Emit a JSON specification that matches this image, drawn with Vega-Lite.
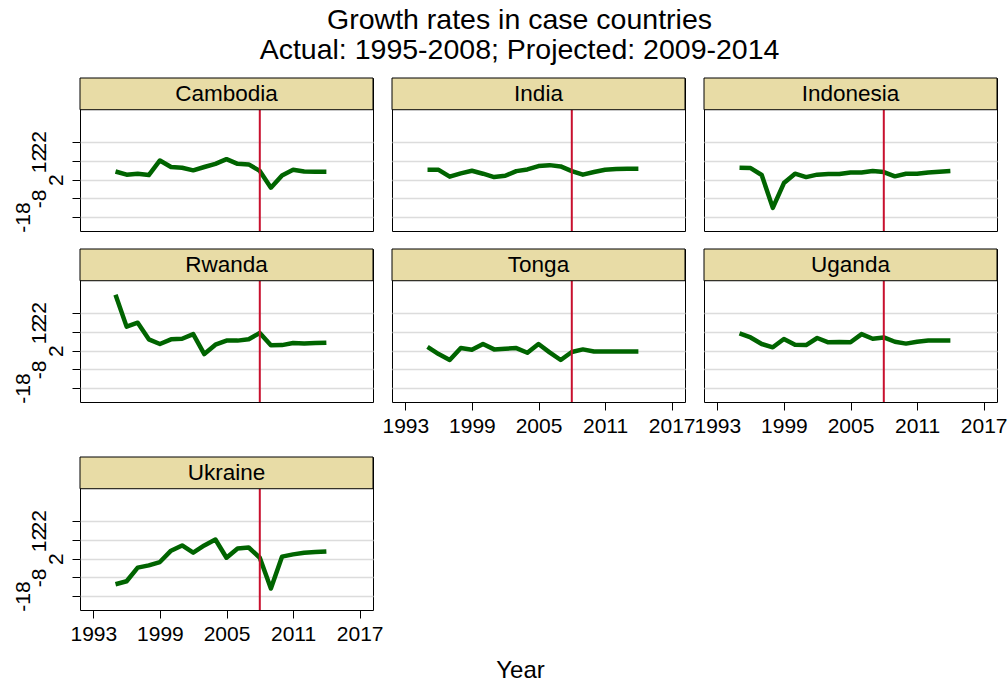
{
"$schema": "https://vega.github.io/schema/vega-lite/v6.json",
"padding": {"left": 11, "top": 6, "right": 0, "bottom": 0},
"background": "white",
"title": {"text": ["Growth rates in case countries", "Actual: 1995-2008; Projected: 2009-2014"], "fontSize": 28.5, "lineHeight": 29.5, "font": "Liberation Sans", "fontWeight": "normal", "color": "black", "anchor": "middle", "dx": 10, "offset": 13},
"config": {
  "view": {"stroke": "black", "strokeWidth": 1},
  "axis": {"labelFont": "Liberation Sans", "titleFont": "Liberation Sans", "labelColor": "black", "titleColor": "black"},
  "text": {"font": "Liberation Sans"}
},
"datasets": {
"growth": [
{"country":"Cambodia","year":1995,"growth":6.4},{"country":"Cambodia","year":1996,"growth":4.7},{"country":"Cambodia","year":1997,"growth":5.2},{"country":"Cambodia","year":1998,"growth":4.5},{"country":"Cambodia","year":1999,"growth":12.3},{"country":"Cambodia","year":2000,"growth":8.8},{"country":"Cambodia","year":2001,"growth":8.4},{"country":"Cambodia","year":2002,"growth":7.0},{"country":"Cambodia","year":2003,"growth":8.8},{"country":"Cambodia","year":2004,"growth":10.5},{"country":"Cambodia","year":2005,"growth":13.0},{"country":"Cambodia","year":2006,"growth":10.5},{"country":"Cambodia","year":2007,"growth":10.2},{"country":"Cambodia","year":2008,"growth":6.7},{"country":"Cambodia","year":2009,"growth":-2.3},{"country":"Cambodia","year":2010,"growth":4.3},{"country":"Cambodia","year":2011,"growth":7.3},{"country":"Cambodia","year":2012,"growth":6.4},{"country":"Cambodia","year":2013,"growth":6.3},{"country":"Cambodia","year":2014,"growth":6.3},
{"country":"India","year":1995,"growth":7.3},{"country":"India","year":1996,"growth":7.3},{"country":"India","year":1997,"growth":3.6},{"country":"India","year":1998,"growth":5.4},{"country":"India","year":1999,"growth":6.8},{"country":"India","year":2000,"growth":5.2},{"country":"India","year":2001,"growth":3.4},{"country":"India","year":2002,"growth":4.1},{"country":"India","year":2003,"growth":6.6},{"country":"India","year":2004,"growth":7.5},{"country":"India","year":2005,"growth":9.3},{"country":"India","year":2006,"growth":9.8},{"country":"India","year":2007,"growth":9.1},{"country":"India","year":2008,"growth":6.6},{"country":"India","year":2009,"growth":4.7},{"country":"India","year":2010,"growth":6.1},{"country":"India","year":2011,"growth":7.3},{"country":"India","year":2012,"growth":7.7},{"country":"India","year":2013,"growth":7.9},{"country":"India","year":2014,"growth":7.9},
{"country":"Indonesia","year":1995,"growth":8.4},{"country":"Indonesia","year":1996,"growth":8.2},{"country":"Indonesia","year":1997,"growth":4.5},{"country":"Indonesia","year":1998,"growth":-13.1},{"country":"Indonesia","year":1999,"growth":0.2},{"country":"Indonesia","year":2000,"growth":5.2},{"country":"Indonesia","year":2001,"growth":3.4},{"country":"Indonesia","year":2002,"growth":4.7},{"country":"Indonesia","year":2003,"growth":5.0},{"country":"Indonesia","year":2004,"growth":5.0},{"country":"Indonesia","year":2005,"growth":5.9},{"country":"Indonesia","year":2006,"growth":5.9},{"country":"Indonesia","year":2007,"growth":6.6},{"country":"Indonesia","year":2008,"growth":6.1},{"country":"Indonesia","year":2009,"growth":3.8},{"country":"Indonesia","year":2010,"growth":5.2},{"country":"Indonesia","year":2011,"growth":5.2},{"country":"Indonesia","year":2012,"growth":5.9},{"country":"Indonesia","year":2013,"growth":6.3},{"country":"Indonesia","year":2014,"growth":6.6},
{"country":"Rwanda","year":1995,"growth":32.0},{"country":"Rwanda","year":1996,"growth":14.9},{"country":"Rwanda","year":1997,"growth":17.0},{"country":"Rwanda","year":1998,"growth":8.1},{"country":"Rwanda","year":1999,"growth":5.6},{"country":"Rwanda","year":2000,"growth":8.1},{"country":"Rwanda","year":2001,"growth":8.4},{"country":"Rwanda","year":2002,"growth":10.9},{"country":"Rwanda","year":2003,"growth":0.2},{"country":"Rwanda","year":2004,"growth":5.2},{"country":"Rwanda","year":2005,"growth":7.4},{"country":"Rwanda","year":2006,"growth":7.4},{"country":"Rwanda","year":2007,"growth":8.1},{"country":"Rwanda","year":2008,"growth":11.5},{"country":"Rwanda","year":2009,"growth":4.9},{"country":"Rwanda","year":2010,"growth":5.0},{"country":"Rwanda","year":2011,"growth":6.1},{"country":"Rwanda","year":2012,"growth":5.8},{"country":"Rwanda","year":2013,"growth":6.1},{"country":"Rwanda","year":2014,"growth":6.3},
{"country":"Tonga","year":1995,"growth":4.1},{"country":"Tonga","year":1996,"growth":0.2},{"country":"Tonga","year":1997,"growth":-3.0},{"country":"Tonga","year":1998,"growth":3.4},{"country":"Tonga","year":1999,"growth":2.5},{"country":"Tonga","year":2000,"growth":5.6},{"country":"Tonga","year":2001,"growth":2.7},{"country":"Tonga","year":2002,"growth":3.1},{"country":"Tonga","year":2003,"growth":3.4},{"country":"Tonga","year":2004,"growth":0.9},{"country":"Tonga","year":2005,"growth":5.6},{"country":"Tonga","year":2006,"growth":1.1},{"country":"Tonga","year":2007,"growth":-3.0},{"country":"Tonga","year":2008,"growth":1.3},{"country":"Tonga","year":2009,"growth":2.7},{"country":"Tonga","year":2010,"growth":1.6},{"country":"Tonga","year":2011,"growth":1.6},{"country":"Tonga","year":2012,"growth":1.6},{"country":"Tonga","year":2013,"growth":1.6},{"country":"Tonga","year":2014,"growth":1.6},
{"country":"Uganda","year":1995,"growth":11.3},{"country":"Uganda","year":1996,"growth":9.1},{"country":"Uganda","year":1997,"growth":5.6},{"country":"Uganda","year":1998,"growth":3.8},{"country":"Uganda","year":1999,"growth":8.3},{"country":"Uganda","year":2000,"growth":5.2},{"country":"Uganda","year":2001,"growth":5.0},{"country":"Uganda","year":2002,"growth":8.8},{"country":"Uganda","year":2003,"growth":6.5},{"country":"Uganda","year":2004,"growth":6.6},{"country":"Uganda","year":2005,"growth":6.5},{"country":"Uganda","year":2006,"growth":10.9},{"country":"Uganda","year":2007,"growth":8.4},{"country":"Uganda","year":2008,"growth":9.1},{"country":"Uganda","year":2009,"growth":6.8},{"country":"Uganda","year":2010,"growth":5.8},{"country":"Uganda","year":2011,"growth":6.8},{"country":"Uganda","year":2012,"growth":7.4},{"country":"Uganda","year":2013,"growth":7.4},{"country":"Uganda","year":2014,"growth":7.4},
{"country":"Ukraine","year":1995,"growth":-11.7},{"country":"Ukraine","year":1996,"growth":-10.1},{"country":"Ukraine","year":1997,"growth":-2.8},{"country":"Ukraine","year":1998,"growth":-1.6},{"country":"Ukraine","year":1999,"growth":0.2},{"country":"Ukraine","year":2000,"growth":6.3},{"country":"Ukraine","year":2001,"growth":9.1},{"country":"Ukraine","year":2002,"growth":5.2},{"country":"Ukraine","year":2003,"growth":9.1},{"country":"Ukraine","year":2004,"growth":12.3},{"country":"Ukraine","year":2005,"growth":2.5},{"country":"Ukraine","year":2006,"growth":7.5},{"country":"Ukraine","year":2007,"growth":8.0},{"country":"Ukraine","year":2008,"growth":2.5},{"country":"Ukraine","year":2009,"growth":-14.0},{"country":"Ukraine","year":2010,"growth":3.1},{"country":"Ukraine","year":2011,"growth":4.3},{"country":"Ukraine","year":2012,"growth":5.2},{"country":"Ukraine","year":2013,"growth":5.6},{"country":"Ukraine","year":2014,"growth":5.9}
]
},
"vconcat": [
{"vconcat": [
{"hconcat": [
{"width": 293, "height": 153, "layer": [
 {"data": {"name": "growth"}, "transform": [{"filter": "datum.country === 'Cambodia'"}], "mark": {"type": "line", "color": "#006400", "strokeWidth": 4.5, "strokeJoin": "round"},
  "encoding": {"x": {"field": "year", "type": "quantitative", "scale": {"domain": [1991.8, 2018.2], "nice": false, "zero": false}, "axis": null},
   "y": {"field": "growth", "type": "quantitative", "scale": {"domain": [-25.5, 56.5], "nice": false, "zero": false}, "axis": {"values": [-18, -8, 2, 12, 22], "tickCount": 20, "labelExpr": "'' + datum.value", "grid": true, "gridColor": "#dcdcdc", "gridWidth": 1.5, "domain": false, "tickSize": 8, "tickColor": "black", "labelAngle": 270, "labelAlign": "center", "labelBaseline": "alphabetic", "labelFontSize": 21, "labelOverlap": false, "labelBound": false, "labelFlush": false, "labelPadding": {"condition": [{"test": "datum.value == 2", "value": 10}, {"test": "datum.value == -18", "value": 43}], "value": 27}, "title": null}}}},
 {"data": {"values": [{"year": 2008}]}, "mark": {"type": "rule", "color": "#c8102e", "strokeWidth": 2}, "encoding": {"x": {"field": "year", "type": "quantitative"}, "y": {"datum": -25.5}, "y2": {"datum": 39.5}}},
 {"data": {"values": [{"country": "Cambodia"}]}, "mark": {"type": "rect", "fill": "#e8dca6", "stroke": "black", "strokeWidth": 1}, "encoding": {"x": {"datum": 1991.8}, "x2": {"datum": 2018.2}, "y": {"datum": 39.5}, "y2": {"datum": 56.5}}},
 {"data": {"values": [{"country": "Cambodia"}]}, "mark": {"type": "text", "fontSize": 22.5, "baseline": "middle", "align": "center", "color": "black"}, "encoding": {"text": {"field": "country"}, "x": {"datum": 2005}, "y": {"datum": 48}}}
]},
{"width": 293, "height": 153, "layer": [
 {"data": {"name": "growth"}, "transform": [{"filter": "datum.country === 'India'"}], "mark": {"type": "line", "color": "#006400", "strokeWidth": 4.5, "strokeJoin": "round"},
  "encoding": {"x": {"field": "year", "type": "quantitative", "scale": {"domain": [1991.8, 2018.2], "nice": false, "zero": false}, "axis": null},
   "y": {"field": "growth", "type": "quantitative", "scale": {"domain": [-25.5, 56.5], "nice": false, "zero": false}, "axis": {"values": [-18, -8, 2, 12, 22], "tickCount": 20, "grid": true, "gridColor": "#dcdcdc", "gridWidth": 1.5, "domain": false, "ticks": false, "labels": false, "title": null}}}},
 {"data": {"values": [{"year": 2008}]}, "mark": {"type": "rule", "color": "#c8102e", "strokeWidth": 2}, "encoding": {"x": {"field": "year", "type": "quantitative"}, "y": {"datum": -25.5}, "y2": {"datum": 39.5}}},
 {"data": {"values": [{"country": "India"}]}, "mark": {"type": "rect", "fill": "#e8dca6", "stroke": "black", "strokeWidth": 1}, "encoding": {"x": {"datum": 1991.8}, "x2": {"datum": 2018.2}, "y": {"datum": 39.5}, "y2": {"datum": 56.5}}},
 {"data": {"values": [{"country": "India"}]}, "mark": {"type": "text", "fontSize": 22.5, "baseline": "middle", "align": "center", "color": "black"}, "encoding": {"text": {"field": "country"}, "x": {"datum": 2005}, "y": {"datum": 48}}}
]},
{"width": 293, "height": 153, "layer": [
 {"data": {"name": "growth"}, "transform": [{"filter": "datum.country === 'Indonesia'"}], "mark": {"type": "line", "color": "#006400", "strokeWidth": 4.5, "strokeJoin": "round"},
  "encoding": {"x": {"field": "year", "type": "quantitative", "scale": {"domain": [1991.8, 2018.2], "nice": false, "zero": false}, "axis": null},
   "y": {"field": "growth", "type": "quantitative", "scale": {"domain": [-25.5, 56.5], "nice": false, "zero": false}, "axis": {"values": [-18, -8, 2, 12, 22], "tickCount": 20, "grid": true, "gridColor": "#dcdcdc", "gridWidth": 1.5, "domain": false, "ticks": false, "labels": false, "title": null}}}},
 {"data": {"values": [{"year": 2008}]}, "mark": {"type": "rule", "color": "#c8102e", "strokeWidth": 2}, "encoding": {"x": {"field": "year", "type": "quantitative"}, "y": {"datum": -25.5}, "y2": {"datum": 39.5}}},
 {"data": {"values": [{"country": "Indonesia"}]}, "mark": {"type": "rect", "fill": "#e8dca6", "stroke": "black", "strokeWidth": 1}, "encoding": {"x": {"datum": 1991.8}, "x2": {"datum": 2018.2}, "y": {"datum": 39.5}, "y2": {"datum": 56.5}}},
 {"data": {"values": [{"country": "Indonesia"}]}, "mark": {"type": "text", "fontSize": 22.5, "baseline": "middle", "align": "center", "color": "black"}, "encoding": {"text": {"field": "country"}, "x": {"datum": 2005}, "y": {"datum": 48}}}
]}
], "spacing": 19, "bounds": "flush"},
{"hconcat": [
{"width": 293, "height": 153, "layer": [
 {"data": {"name": "growth"}, "transform": [{"filter": "datum.country === 'Rwanda'"}], "mark": {"type": "line", "color": "#006400", "strokeWidth": 4.5, "strokeJoin": "round"},
  "encoding": {"x": {"field": "year", "type": "quantitative", "scale": {"domain": [1991.8, 2018.2], "nice": false, "zero": false}, "axis": null},
   "y": {"field": "growth", "type": "quantitative", "scale": {"domain": [-25.5, 56.5], "nice": false, "zero": false}, "axis": {"values": [-18, -8, 2, 12, 22], "tickCount": 20, "labelExpr": "'' + datum.value", "grid": true, "gridColor": "#dcdcdc", "gridWidth": 1.5, "domain": false, "tickSize": 8, "tickColor": "black", "labelAngle": 270, "labelAlign": "center", "labelBaseline": "alphabetic", "labelFontSize": 21, "labelOverlap": false, "labelBound": false, "labelFlush": false, "labelPadding": {"condition": [{"test": "datum.value == 2", "value": 10}, {"test": "datum.value == -18", "value": 43}], "value": 27}, "title": null}}}},
 {"data": {"values": [{"year": 2008}]}, "mark": {"type": "rule", "color": "#c8102e", "strokeWidth": 2}, "encoding": {"x": {"field": "year", "type": "quantitative"}, "y": {"datum": -25.5}, "y2": {"datum": 39.5}}},
 {"data": {"values": [{"country": "Rwanda"}]}, "mark": {"type": "rect", "fill": "#e8dca6", "stroke": "black", "strokeWidth": 1}, "encoding": {"x": {"datum": 1991.8}, "x2": {"datum": 2018.2}, "y": {"datum": 39.5}, "y2": {"datum": 56.5}}},
 {"data": {"values": [{"country": "Rwanda"}]}, "mark": {"type": "text", "fontSize": 22.5, "baseline": "middle", "align": "center", "color": "black"}, "encoding": {"text": {"field": "country"}, "x": {"datum": 2005}, "y": {"datum": 48}}}
]},
{"width": 293, "height": 153, "layer": [
 {"data": {"name": "growth"}, "transform": [{"filter": "datum.country === 'Tonga'"}], "mark": {"type": "line", "color": "#006400", "strokeWidth": 4.5, "strokeJoin": "round"},
  "encoding": {"x": {"field": "year", "type": "quantitative", "scale": {"domain": [1991.8, 2018.2], "nice": false, "zero": false}, "axis": {"values": [1993, 1999, 2005, 2011, 2017], "tickCount": 20, "format": "d", "grid": false, "domain": false, "tickSize": 8, "tickColor": "black", "labelFontSize": 21, "labelPadding": 5, "labelOverlap": false, "labelFlush": false, "labelBound": false, "title": null}},
   "y": {"field": "growth", "type": "quantitative", "scale": {"domain": [-25.5, 56.5], "nice": false, "zero": false}, "axis": {"values": [-18, -8, 2, 12, 22], "tickCount": 20, "grid": true, "gridColor": "#dcdcdc", "gridWidth": 1.5, "domain": false, "ticks": false, "labels": false, "title": null}}}},
 {"data": {"values": [{"year": 2008}]}, "mark": {"type": "rule", "color": "#c8102e", "strokeWidth": 2}, "encoding": {"x": {"field": "year", "type": "quantitative"}, "y": {"datum": -25.5}, "y2": {"datum": 39.5}}},
 {"data": {"values": [{"country": "Tonga"}]}, "mark": {"type": "rect", "fill": "#e8dca6", "stroke": "black", "strokeWidth": 1}, "encoding": {"x": {"datum": 1991.8}, "x2": {"datum": 2018.2}, "y": {"datum": 39.5}, "y2": {"datum": 56.5}}},
 {"data": {"values": [{"country": "Tonga"}]}, "mark": {"type": "text", "fontSize": 22.5, "baseline": "middle", "align": "center", "color": "black"}, "encoding": {"text": {"field": "country"}, "x": {"datum": 2005}, "y": {"datum": 48}}}
]},
{"width": 293, "height": 153, "layer": [
 {"data": {"name": "growth"}, "transform": [{"filter": "datum.country === 'Uganda'"}], "mark": {"type": "line", "color": "#006400", "strokeWidth": 4.5, "strokeJoin": "round"},
  "encoding": {"x": {"field": "year", "type": "quantitative", "scale": {"domain": [1991.8, 2018.2], "nice": false, "zero": false}, "axis": {"values": [1993, 1999, 2005, 2011, 2017], "tickCount": 20, "format": "d", "grid": false, "domain": false, "tickSize": 8, "tickColor": "black", "labelFontSize": 21, "labelPadding": 5, "labelOverlap": false, "labelFlush": false, "labelBound": false, "title": null}},
   "y": {"field": "growth", "type": "quantitative", "scale": {"domain": [-25.5, 56.5], "nice": false, "zero": false}, "axis": {"values": [-18, -8, 2, 12, 22], "tickCount": 20, "grid": true, "gridColor": "#dcdcdc", "gridWidth": 1.5, "domain": false, "ticks": false, "labels": false, "title": null}}}},
 {"data": {"values": [{"year": 2008}]}, "mark": {"type": "rule", "color": "#c8102e", "strokeWidth": 2}, "encoding": {"x": {"field": "year", "type": "quantitative"}, "y": {"datum": -25.5}, "y2": {"datum": 39.5}}},
 {"data": {"values": [{"country": "Uganda"}]}, "mark": {"type": "rect", "fill": "#e8dca6", "stroke": "black", "strokeWidth": 1}, "encoding": {"x": {"datum": 1991.8}, "x2": {"datum": 2018.2}, "y": {"datum": 39.5}, "y2": {"datum": 56.5}}},
 {"data": {"values": [{"country": "Uganda"}]}, "mark": {"type": "text", "fontSize": 22.5, "baseline": "middle", "align": "center", "color": "black"}, "encoding": {"text": {"field": "country"}, "x": {"datum": 2005}, "y": {"datum": 48}}}
]}
], "spacing": 19, "bounds": "flush"}
], "spacing": 15},
{"hconcat": [
{"width": 293, "height": 153, "layer": [
 {"data": {"name": "growth"}, "transform": [{"filter": "datum.country === 'Ukraine'"}], "mark": {"type": "line", "color": "#006400", "strokeWidth": 4.5, "strokeJoin": "round"},
  "encoding": {"x": {"field": "year", "type": "quantitative", "scale": {"domain": [1991.8, 2018.2], "nice": false, "zero": false}, "axis": {"values": [1993, 1999, 2005, 2011, 2017], "tickCount": 20, "format": "d", "grid": false, "domain": false, "tickSize": 8, "tickColor": "black", "labelFontSize": 21, "labelPadding": 5, "labelOverlap": false, "labelFlush": false, "labelBound": false, "title": "Year", "titleFontSize": 24, "titleFontWeight": "normal", "titleX": 440, "titleY": 67, "titleAlign": "center", "titleBaseline": "alphabetic"}},
   "y": {"field": "growth", "type": "quantitative", "scale": {"domain": [-25.5, 56.5], "nice": false, "zero": false}, "axis": {"values": [-18, -8, 2, 12, 22], "tickCount": 20, "labelExpr": "'' + datum.value", "grid": true, "gridColor": "#dcdcdc", "gridWidth": 1.5, "domain": false, "tickSize": 8, "tickColor": "black", "labelAngle": 270, "labelAlign": "center", "labelBaseline": "alphabetic", "labelFontSize": 21, "labelOverlap": false, "labelBound": false, "labelFlush": false, "labelPadding": {"condition": [{"test": "datum.value == 2", "value": 10}, {"test": "datum.value == -18", "value": 43}], "value": 27}, "title": null}}}},
 {"data": {"values": [{"year": 2008}]}, "mark": {"type": "rule", "color": "#c8102e", "strokeWidth": 2}, "encoding": {"x": {"field": "year", "type": "quantitative"}, "y": {"datum": -25.5}, "y2": {"datum": 39.5}}},
 {"data": {"values": [{"country": "Ukraine"}]}, "mark": {"type": "rect", "fill": "#e8dca6", "stroke": "black", "strokeWidth": 1}, "encoding": {"x": {"datum": 1991.8}, "x2": {"datum": 2018.2}, "y": {"datum": 39.5}, "y2": {"datum": 56.5}}},
 {"data": {"values": [{"country": "Ukraine"}]}, "mark": {"type": "text", "fontSize": 22.5, "baseline": "middle", "align": "center", "color": "black"}, "encoding": {"text": {"field": "country"}, "x": {"datum": 2005}, "y": {"datum": 48}}}
]}
], "bounds": "flush"}
], "spacing": 19}
